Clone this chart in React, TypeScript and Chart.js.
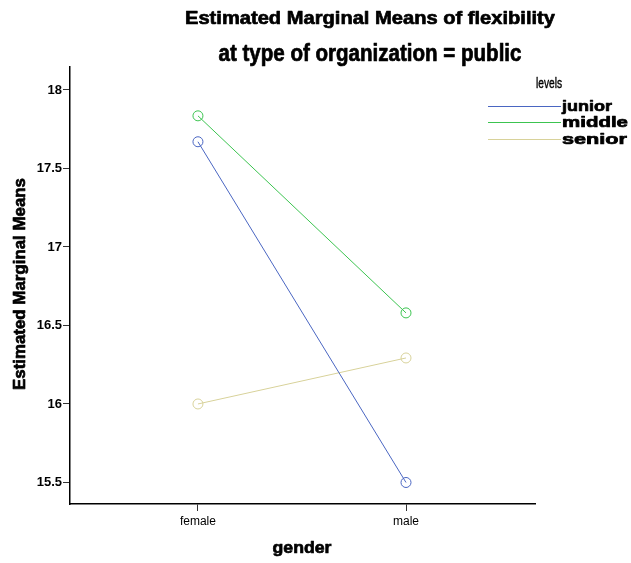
import React, { useEffect, useRef } from "react";
import { Chart, registerables } from "chart.js";

Chart.register(...registerables);

const categories = ["female", "male"];
const seriesNames = ["junior", "middle", "senior"];
const junior = [17.67, 15.5];
const middle = [17.835, 16.58];
const senior = [16.0, 16.293];
const yTicks = [15.5, 16, 16.5, 17, 17.5, 18];
const colors = ["#4a66c2", "#3cc450", "#d8d29a"];

const titleLine1 = "Estimated Marginal Means of flexibility";
const titleLine2 = "at type of organization = public";
const yTitle = "Estimated Marginal Means";
const xTitle = "gender";
const legendTitle = "levels";

const FONT = "'Liberation Sans', Arial, sans-serif";

function heavyText(ctx: any, text: string, x: number, y: number, font: string, sx: number, targetW?: number, lw = 0.7) {
  ctx.save();
  ctx.font = font;
  let scale = sx;
  if (targetW) {
    const w = ctx.measureText(text).width;
    scale = targetW / w;
  }
  ctx.translate(x, y);
  ctx.scale(scale, 1);
  ctx.fillStyle = "#000";
  ctx.strokeStyle = "#000";
  ctx.lineWidth = lw;
  ctx.lineJoin = "round";
  ctx.fillText(text, 0, 0);
  if (lw > 0) ctx.strokeText(text, 0, 0);
  ctx.restore();
}

const textPlugin = {
  id: "textPlugin",
  afterDraw(chart: any) {
    const ctx = chart.ctx;
    ctx.save();
    ctx.textBaseline = "middle";
    ctx.textAlign = "center";
    heavyText(ctx, titleLine1, 370, 19, `bold 19px ${FONT}`, 1, 370);
    heavyText(ctx, titleLine2, 370, 55, `bold 23px ${FONT}`, 1, 303);
    heavyText(ctx, xTitle, 302, 548, `bold 17px ${FONT}`, 1, 59);
    ctx.save();
    ctx.translate(20, 284);
    ctx.rotate(-Math.PI / 2);
    heavyText(ctx, yTitle, 0, 0, `bold 17px ${FONT}`, 1, 212);
    ctx.restore();
    // legend
    heavyText(ctx, legendTitle, 549, 84, `14px ${FONT}`, 1, 26, 0.4);
    ctx.textAlign = "left";
    const ys = [106, 122, 139];
    const widths = [50, 66, 65];
    seriesNames.forEach((name, i) => {
      ctx.strokeStyle = colors[i];
      ctx.lineWidth = 1;
      ctx.beginPath();
      ctx.moveTo(488, ys[i] + 0.5);
      ctx.lineTo(561, ys[i] + 0.5);
      ctx.stroke();
      heavyText(ctx, name, 562, ys[i] + 1, `bold 15px ${FONT}`, 1, widths[i]);
    });
    ctx.restore();
  },
};

export default function App() {
  const ref = useRef<HTMLCanvasElement>(null);
  useEffect(() => {
    document.body.style.margin = "0";
    const mk = (vals: number[]) => vals.map((v, i) => ({ x: i + 1, y: v }));
    const datasets = [junior, middle, senior].map((vals, i) => ({
      label: seriesNames[i],
      data: mk(vals),
      borderColor: colors[i],
      backgroundColor: "rgba(0,0,0,0)",
      borderWidth: 1,
      pointRadius: 5,
      pointBorderWidth: 1,
      pointBorderColor: colors[i],
      pointBackgroundColor: "rgba(0,0,0,0)",
      showLine: true,
    }));
    const chart = new Chart(ref.current!, {
      type: "scatter",
      data: { datasets },
      plugins: [textPlugin],
      options: {
        animation: false,
        responsive: false,
        layout: { padding: { top: 67, right: 96, left: 0, bottom: 0 } },
        plugins: { legend: { display: false }, tooltip: { enabled: false }, title: { display: false } },
        scales: {
          x: {
            type: "linear",
            min: 0.385,
            max: 2.62,
            afterBuildTicks: (s: any) => {
              s.ticks = categories.map((_, i) => ({ value: i + 1 }));
            },
            afterFit: (s: any) => {
              s.height = 59;
            },
            ticks: {
              callback: (v: any) => categories[Math.round(v) - 1] ?? "",
              color: "#000",
              font: { family: FONT, size: 12 },
              padding: 3,
              maxRotation: 0,
            },
            grid: { drawOnChartArea: false, drawTicks: true, tickLength: 7, color: "#333" },
            border: { display: true, color: "#000", width: 1.5 },
          },
          y: {
            type: "linear",
            min: 15.363,
            max: 18.146,
            afterBuildTicks: (s: any) => {
              s.ticks = yTicks.map((v) => ({ value: v }));
            },
            afterFit: (s: any) => {
              s.width = 70;
            },
            ticks: {
              callback: (v: any) => String(v),
              color: "#000",
              font: { family: FONT, size: 13, weight: "bold" },
              padding: 1,
            },
            grid: { drawOnChartArea: false, drawTicks: true, tickLength: 7, color: "#333" },
            border: { display: true, color: "#000", width: 1.5 },
          },
        },
      } as any,
    });
    return () => chart.destroy();
  }, []);
  return <canvas ref={ref} width={631} height={563} style={{ display: "block" }} />;
}
